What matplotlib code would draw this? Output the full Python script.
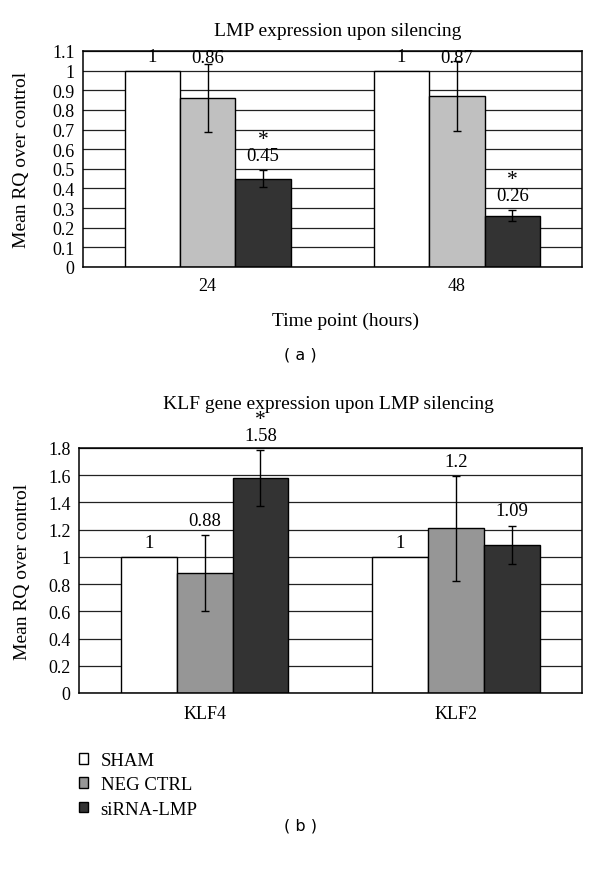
import matplotlib
matplotlib.use("Agg")
import matplotlib.pyplot as plt
import numpy as np
from matplotlib.patches import Rectangle

plt.rcParams['font.family'] = ['Liberation Serif', 'DejaVu Serif']

series = ["SHAM", "NEG CTRL", "siRNA-LMP"]

# Panel (a)
a_title = "LMP expression upon silencing"
a_cats = ["24", "48"]
a_sham = [1.0, 1.0]
a_neg = [0.86, 0.87]
a_sirna = [0.45, 0.26]
a_neg_err = [0.175, 0.177]
a_sirna_err = [0.045, 0.028]
a_sig_sirna = [True, True]
a_yticks = [0, 0.1, 0.2, 0.3, 0.4, 0.5, 0.6, 0.7, 0.8, 0.9, 1, 1.1]
a_yticklabels = ["0", "0.1", "0.2", "0.3", "0.4", "0.5", "0.6", "0.7", "0.8", "0.9", "1", "1.1"]

# Panel (b)
b_title = "KLF gene expression upon LMP silencing"
b_cats = ["KLF4", "KLF2"]
b_sham = [1.0, 1.0]
b_neg = [0.88, 1.21]
b_sirna = [1.58, 1.09]
b_neg_err = [0.28, 0.385]
b_sirna_err = [0.205, 0.14]
b_value_labels_neg = ["0.88", "1.2"]
b_value_labels_sirna = ["1.58", "1.09"]
b_sig_sirna = [True, False]
b_yticks = [0, 0.2, 0.4, 0.6, 0.8, 1, 1.2, 1.4, 1.6, 1.8]
b_yticklabels = ["0", "0.2", "0.4", "0.6", "0.8", "1", "1.2", "1.4", "1.6", "1.8"]

a_colors = ["#ffffff", "#c0c0c0", "#333333"]
b_colors = ["#ffffff", "#969696", "#333333"]

TICK_FS = 13
LAB_FS = 14
VAL_FS = 13.5

W, H = 600, 870
fig = plt.figure(figsize=(W / 100, H / 100), dpi=100)


def draw_panel(ax, cats, vals, errs, labels, sigs, colors, yticks, yticklabels, ymax,
               xpad, ylab_x, cap_labels):
    x = np.arange(len(cats))
    w = 0.222
    ax.set_axisbelow(True)
    ax.set_xlim(-0.5, len(cats) - 0.5)
    ax.set_ylim(0, ymax)
    for i, (v, e, lab, sg, c) in enumerate(zip(vals, errs, labels, sigs, colors)):
        pos = x + (i - 1) * w
        ax.bar(pos, v, width=w, color=c, edgecolor="black", linewidth=1.0, zorder=2)
        if e is not None:
            ax.errorbar(pos, v, yerr=e, fmt="none", ecolor="black", elinewidth=1.0,
                        capsize=3, capthick=1.0, zorder=3)
        for j in range(len(cats)):
            top = v[j] + (e[j] if e is not None else 0)
            off = 10.5
            ytext = top
            if cap_labels and e is not None and top + 0.07 > ymax:
                ytext = ymax * 0.968
                off = 0
            ax.annotate(lab[j], (pos[j], ytext), xytext=(0, off), textcoords="offset points",
                        ha="center", va="center", fontsize=VAL_FS, annotation_clip=False, zorder=5)
            if sg[j]:
                ax.annotate("*", (pos[j], ytext), xytext=(0, off + 11.5), textcoords="offset points",
                            ha="center", va="center", fontsize=VAL_FS + 2, annotation_clip=False, zorder=5)
    ax.set_yticks(yticks)
    ax.set_yticklabels(yticklabels, fontsize=TICK_FS)
    ax.set_xticks(x)
    ax.set_xticklabels(cats, fontsize=TICK_FS)
    ax.tick_params(axis="y", length=0, pad=6)
    ax.tick_params(axis="x", length=0, pad=xpad)
    ax.yaxis.grid(True, color="#222222", linewidth=0.9, zorder=0)
    for s in ax.spines.values():
        s.set_color("black")
        s.set_linewidth(1.1)
    ax.set_ylabel("Mean RQ over control", fontsize=LAB_FS)
    ax.yaxis.set_label_coords(ylab_x, 0.5)


# ---- panel (a)
a_l, a_r, a_t, a_b = 83, 581.5, 52, 268
ax1 = fig.add_axes([a_l / W, 1 - a_b / H, (a_r - a_l) / W, (a_b - a_t) / H])
a_labels = [["1", "1"],
            ["%.2f" % v for v in a_neg],
            ["%.2f" % v for v in a_sirna]]
draw_panel(ax1, a_cats, [a_sham, a_neg, a_sirna], [None, a_neg_err, a_sirna_err],
           a_labels, [[False, False], [False, False], a_sig_sirna], a_colors,
           a_yticks, a_yticklabels, 1.1, 7, (30 - a_l) / (a_r - a_l), True)
ax1.set_xlabel("Time point (hours)", fontsize=LAB_FS)
ax1.xaxis.set_label_coords((346 - a_l) / (a_r - a_l), -(313 - a_b) / (a_b - a_t))
fig.text(338 / W, 1 - 32 / H, a_title, ha="center", va="center", fontsize=LAB_FS)

# ---- panel (b)
b_l, b_r, b_t, b_b = 79, 581.5, 449, 694
ax2 = fig.add_axes([b_l / W, 1 - b_b / H, (b_r - b_l) / W, (b_b - b_t) / H])
b_labels = [["1", "1"], b_value_labels_neg, b_value_labels_sirna]
draw_panel(ax2, b_cats, [b_sham, b_neg, b_sirna], [None, b_neg_err, b_sirna_err],
           b_labels, [[False, False], [False, False], b_sig_sirna], b_colors,
           b_yticks, b_yticklabels, 1.8, 9, (31 - b_l) / (b_r - b_l), False)
fig.text(328 / W, 1 - 405 / H, b_title, ha="center", va="center", fontsize=LAB_FS)

# ---- legend
handles = [Rectangle((0, 0), 1, 1, facecolor=c, edgecolor="black", linewidth=1.0) for c in b_colors]
fig.legend(handles, series, loc="upper left", bbox_to_anchor=(79 / W, 1 - 753 / H),
           frameon=False, fontsize=13.5, handlelength=0.5, handleheight=0.5,
           handletextpad=0.65, labelspacing=0.39, borderpad=0, borderaxespad=0)

fig.text(0.5, 1 - 355 / H, "( a )", ha="center", va="center", fontsize=11.5, family="DejaVu Sans")
fig.text(0.5, 1 - 826 / H, "( b )", ha="center", va="center", fontsize=11.5, family="DejaVu Sans")

fig.savefig("out.png", dpi=100, facecolor="white")
